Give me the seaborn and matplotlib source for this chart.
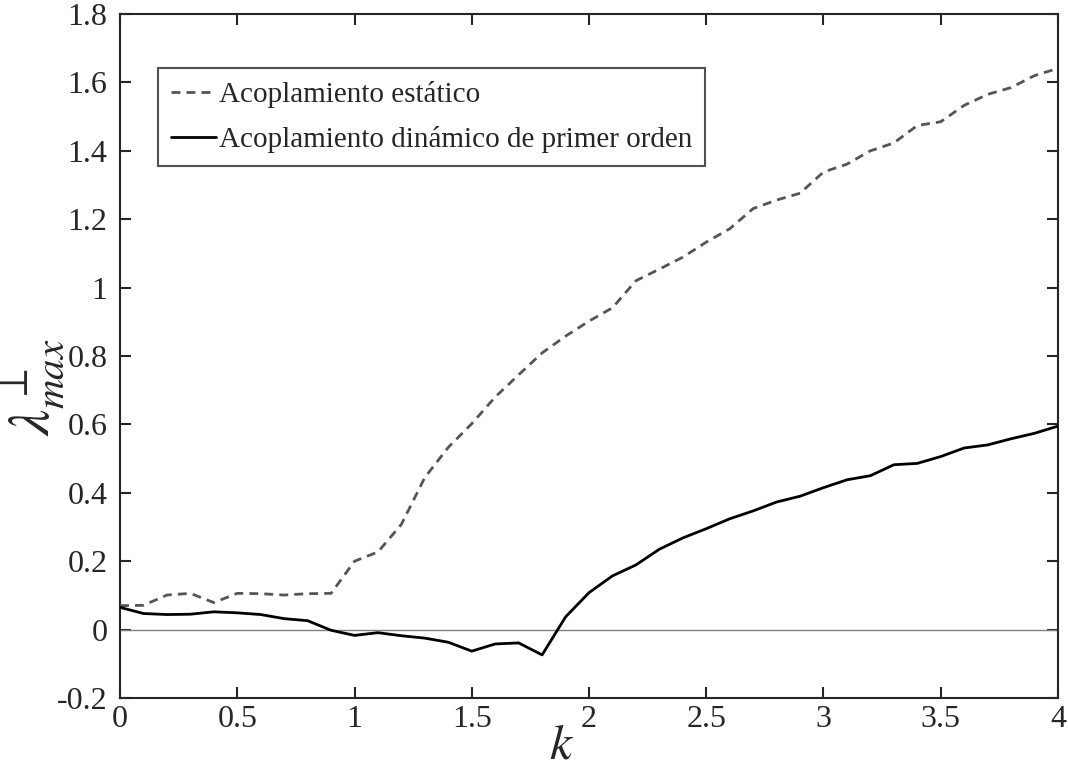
import numpy as np
import pandas as pd
import matplotlib
matplotlib.use("Agg")
import matplotlib.pyplot as plt
import seaborn as sns
from matplotlib.ticker import FuncFormatter

k_values = [0.0, 0.1, 0.2, 0.3, 0.4, 0.5, 0.6, 0.7, 0.8, 0.9,
            1.0, 1.1, 1.2, 1.3, 1.4, 1.5, 1.6, 1.7, 1.8, 1.9,
            2.0, 2.1, 2.2, 2.3, 2.4, 2.5, 2.6, 2.7, 2.8, 2.9,
            3.0, 3.1, 3.2, 3.3, 3.4, 3.5, 3.6, 3.7, 3.8, 3.9, 4.0]

static_values = [0.070, 0.071, 0.101, 0.106, 0.079, 0.106, 0.105, 0.101, 0.105, 0.106,
                 0.200, 0.227, 0.308, 0.445, 0.533, 0.602, 0.680, 0.745, 0.809, 0.858,
                 0.902, 0.941, 1.020, 1.054, 1.089, 1.133, 1.172, 1.231, 1.256, 1.276,
                 1.338, 1.361, 1.400, 1.423, 1.474, 1.485, 1.533, 1.565, 1.585, 1.620, 1.641]

dynamic_values = [0.065, 0.047, 0.044, 0.045, 0.052, 0.049, 0.044, 0.032, 0.026, -0.002,
                  -0.017, -0.009, -0.018, -0.025, -0.037, -0.063, -0.042, -0.039, -0.074, 0.037,
                  0.108, 0.157, 0.189, 0.235, 0.268, 0.295, 0.324, 0.347, 0.373, 0.390,
                  0.415, 0.438, 0.450, 0.482, 0.486, 0.506, 0.531, 0.540, 0.558, 0.574, 0.595]

series_names = ["Acoplamiento estático", "Acoplamiento dinámico de primer orden"]
y_ticks = [-0.2, 0, 0.2, 0.4, 0.6, 0.8, 1.0, 1.2, 1.4, 1.6, 1.8]
x_ticks = [0, 0.5, 1, 1.5, 2, 2.5, 3, 3.5, 4]

df_static = pd.DataFrame({"k": k_values, "lam": static_values})
df_dyn = pd.DataFrame({"k": k_values, "lam": dynamic_values})

sns.set_style("white")
plt.rcParams["font.family"] = ["Liberation Serif", "DejaVu Serif"]
plt.rcParams["mathtext.fontset"] = "stix"

fig = plt.figure(figsize=(10.68, 7.71), dpi=100)
ax = fig.add_axes([0.1124, 0.0947, 0.8782, 0.8871])

ax.axhline(0, color="#808080", lw=1.0, zorder=1)
sns.lineplot(data=df_static, x="k", y="lam", ax=ax, color="#555555", lw=2.0,
             linestyle=(0, (3.2, 2.2)), label=series_names[0], zorder=3)
sns.lineplot(data=df_dyn, x="k", y="lam", ax=ax, color="black", lw=2.0,
             label=series_names[1], zorder=3)

ax.set_xlim(0, 4)
ax.set_ylim(-0.2, 1.8)
ax.set_xticks(x_ticks)
ax.set_yticks(y_ticks)
fmt = FuncFormatter(lambda v, p: "%g" % round(v, 2))
ax.xaxis.set_major_formatter(fmt)
ax.yaxis.set_major_formatter(fmt)
ax.tick_params(direction="in", length=8, width=1.5, color="#262626",
               labelsize=23, labelcolor="#262626", top=True, right=True,
               bottom=True, left=True)
ax.tick_params(axis="y", pad=9)
ax.tick_params(axis="x", pad=5)
for sp in ax.spines.values():
    sp.set_visible(True)
    sp.set_color("#262626")
    sp.set_linewidth(1.5)

ax.set_xlabel(r"$k$", fontsize=36)
ax.xaxis.set_label_coords(0.471, -0.036)
ax.set_ylabel(r"$\lambda^{\perp}_{max}$", fontsize=42)
ax.yaxis.set_label_coords(-0.058, 0.455)

leg = ax.legend(loc="upper left", bbox_to_anchor=(0.0405, 0.921), fontsize=21,
                frameon=True, fancybox=False, edgecolor="#262626",
                handlelength=1.55, handletextpad=0.08, borderpad=0.45,
                labelspacing=0.62, borderaxespad=0)
leg.get_frame().set_linewidth(1.5)

fig.savefig("out.png", dpi=100, facecolor="white")
